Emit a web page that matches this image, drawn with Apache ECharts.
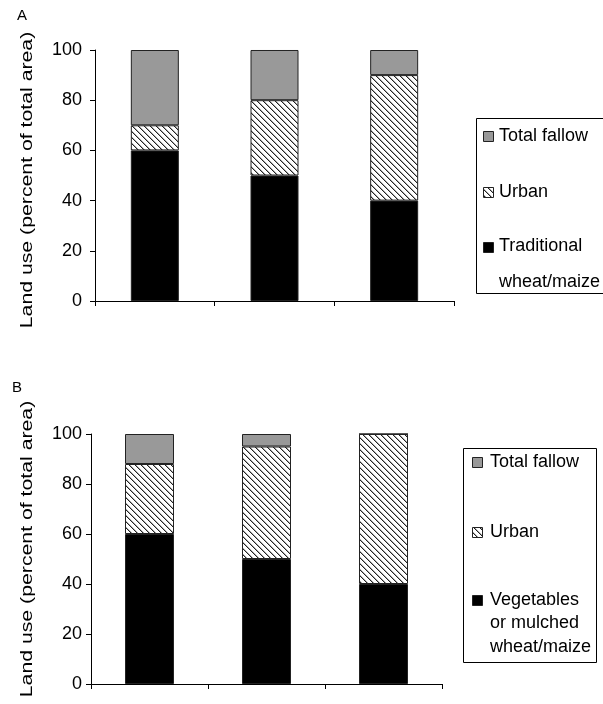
<!DOCTYPE html>
<html><head><meta charset="utf-8">
<script src="https://cdn.jsdelivr.net/npm/echarts@6/dist/echarts.min.js"></script>
<style>html,body{margin:0;padding:0;background:#fff}#c{width:603px;height:704px}</style>
</head><body><div id="c"></div>
<script>
// ---- data ----
const categories = ['1', '2', '3'];
const yTicks = [0, 20, 40, 60, 80, 100];
const aTraditional = [60, 50, 40];
const aUrban = [10, 30, 50];
const aFallow = [30, 20, 10];
const bVegetables = [60, 50, 40];
const bUrban = [28, 45, 60];
const bFallow = [12, 5, 0];
const yTitle = 'Land use (percent of total area)';
const legendA = ['Total fallow', 'Urban', 'Traditional\nwheat/maize'];
const legendB = ['Total fallow', 'Urban', 'Vegetables\nor mulched\nwheat/maize'];

const FONT = '"Liberation Sans", Arial, sans-serif';
const BLACK = '#000000';
const GRAY = '#999999';
const EDGE = '#222222';

function hatchCanvas() {
  const s = 6, c = document.createElement('canvas');
  c.width = s; c.height = s;
  const g = c.getContext('2d');
  g.fillStyle = '#fff'; g.fillRect(0, 0, s, s);
  g.fillStyle = '#aaa';
  for (let i = 0; i < s; i++) g.fillRect((i + 1) % s, i, 1, 1);
  g.fillStyle = '#222';
  for (let i = 0; i < s; i++) g.fillRect(i, i, 1, 1);
  return c;
}
const HATCH = { image: hatchCanvas(), repeat: 'repeat' };

const chart = echarts.init(document.getElementById('c'), null, { renderer: 'canvas' });

function xAxisFor(idx) {
  return {
    gridIndex: idx, type: 'category', data: categories,
    axisLine: { show: true, lineStyle: { color: '#000', width: 1 } },
    axisTick: { show: true, length: 5, lineStyle: { color: '#000' } },
    axisLabel: { show: false }, splitLine: { show: false }
  };
}
function yAxisFor(idx, margin) {
  return {
    gridIndex: idx, type: 'value', min: yTicks[0], max: yTicks[yTicks.length - 1],
    interval: yTicks[1] - yTicks[0],
    axisLine: { show: true, lineStyle: { color: '#000', width: 1 } },
    axisTick: { show: true, length: 5, lineStyle: { color: '#000' } },
    axisLabel: { color: '#000', fontSize: 18, fontFamily: FONT, margin: margin },
    splitLine: { show: false }
  };
}
function barSeries(name, data, idx, color, stack, width) {
  return {
    name: name, type: 'bar', xAxisIndex: idx, yAxisIndex: idx, stack: stack,
    data: data, barWidth: width,
    itemStyle: { color: color, borderColor: EDGE, borderWidth: 1 },
    emphasis: { disabled: true }
  };
}
function legendGraphic(box, iconX, textX, centers, labels, lineHeight, fills) {
  const els = [{
    type: 'rect', shape: { x: box[0] + 0.5, y: box[1] + 0.5, width: box[2], height: box[3] },
    style: { fill: '#fff', stroke: '#000', lineWidth: 1 }, z: 10
  }];
  labels.forEach((lab, i) => {
    const cy = centers[i];
    els.push({
      type: 'rect', shape: { x: iconX + 0.5, y: Math.round(cy - 5) + 0.5, width: 10, height: 10 },
      style: { fill: fills[i], stroke: EDGE, lineWidth: 1 }, z: 11
    });
    els.push({
      type: 'text', x: textX, y: cy - lineHeight / 2, z: 11,
      style: { text: lab, font: '18px ' + FONT, fill: '#000', verticalAlign: 'top', lineHeight: lineHeight }
    });
  });
  return els;
}

const legendFills = [GRAY, HATCH, BLACK];

chart.setOption({
  animation: false,
  backgroundColor: '#fff',
  grid: [
    { left: 95, top: 50, width: 359, height: 251 },
    { left: 91, top: 434, width: 351, height: 250 }
  ],
  xAxis: [xAxisFor(0), xAxisFor(1)],
  yAxis: [yAxisFor(0, 13), yAxisFor(1, 9)],
  series: [
    barSeries(legendA[2].replace('\n', ' '), aTraditional, 0, BLACK, 'A', 48),
    barSeries(legendA[1], aUrban, 0, HATCH, 'A', 48),
    barSeries(legendA[0], aFallow, 0, GRAY, 'A', 48),
    barSeries(legendB[2].replace(/\n/g, ' '), bVegetables, 1, BLACK, 'B', 49),
    barSeries(legendB[1], bUrban, 1, HATCH, 'B', 49),
    barSeries(legendB[0], bFallow, 1, GRAY, 'B', 49)
  ],
  graphic: [].concat(
    [
      { type: 'text', x: 17, y: 16, style: { text: 'A', font: '15px ' + FONT, fill: '#000', verticalAlign: 'middle' } },
      { type: 'text', x: 12, y: 388, style: { text: 'B', font: '15px ' + FONT, fill: '#000', verticalAlign: 'middle' } },
      { type: 'text', x: 27.5, y: 180, rotation: Math.PI / 2, scaleX: 1.25,
        style: { text: yTitle, font: '17px ' + FONT, fill: '#000', align: 'center', verticalAlign: 'middle' } },
      { type: 'text', x: 27, y: 549, rotation: Math.PI / 2, scaleX: 1.25,
        style: { text: yTitle, font: '17px ' + FONT, fill: '#000', align: 'center', verticalAlign: 'middle' } }
    ],
    legendGraphic([476, 118, 140, 175], 483, 499, [136, 192, 246.5], legendA, 36, legendFills),
    legendGraphic([463, 448, 133, 214], 472, 490, [462, 532, 600], legendB, 23.5, legendFills)
  )
});
</script>
</body></html>
